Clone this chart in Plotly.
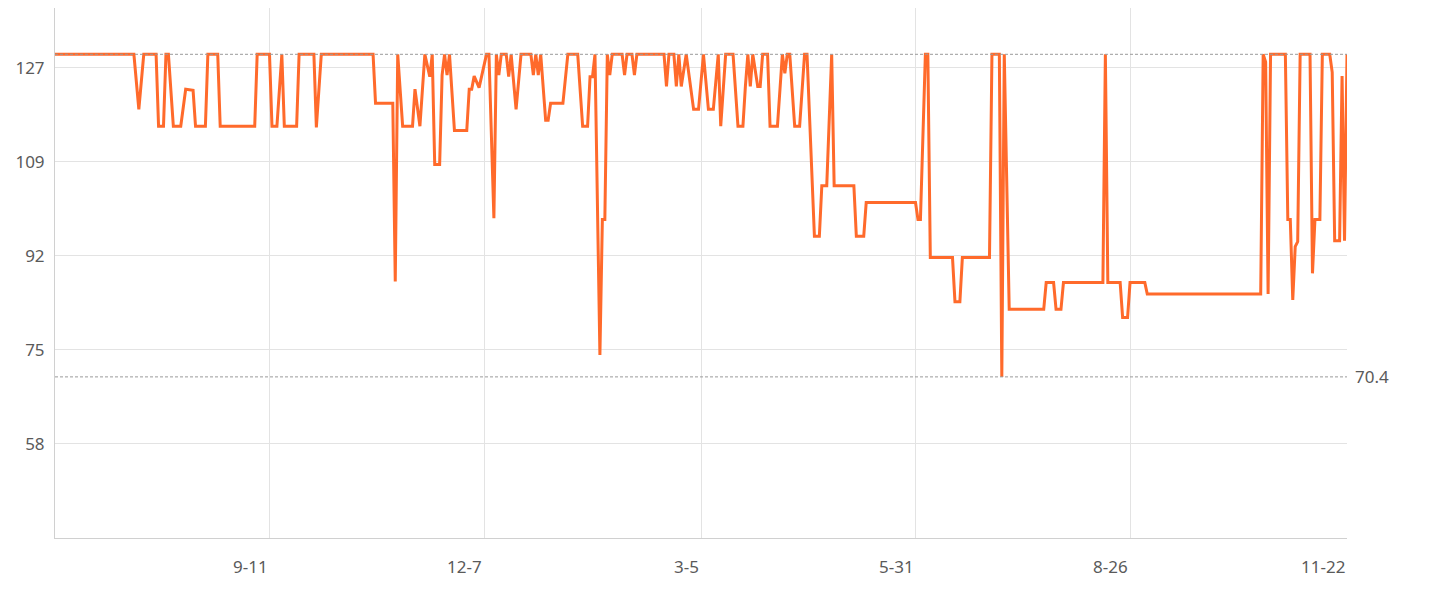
import pandas as pd
import plotly.graph_objects as go

# ---- data ----
start_date = "2022-06-16"
end_date = "2023-11-22"

day_offsets = [
    0, 32, 34, 36, 41, 42, 44, 45, 46, 48, 51, 53, 56, 57, 61, 62, 66, 67, 81, 82,
    87, 88, 90, 92, 93, 98, 99, 105, 106, 108, 129, 130, 137, 138, 139, 141, 145, 146, 148, 150,
    152, 153, 154, 156, 157, 158, 159, 160, 162, 167, 168, 169, 170, 172, 175, 176, 178, 179, 180, 181,
    183, 184, 185, 187, 189, 193, 194, 195, 196, 197, 199, 200, 201, 206, 208, 212, 214, 216, 217, 218,
    219, 221, 222, 223, 224, 225, 226, 230, 231, 232, 234, 235, 236, 247, 248, 249, 251, 252, 253, 254,
    256, 259, 261, 263, 265, 267, 269, 270, 272, 275, 277, 279, 280, 281, 282, 283, 285, 286, 287, 289,
    290, 293, 295, 296, 297, 298, 300, 302, 304, 305, 308, 310, 311, 313, 315, 316, 324, 325, 328, 329,
    349, 350, 351, 353, 354, 355, 364, 365, 367, 368, 379, 380, 383, 384, 385, 387, 401, 402, 405, 406,
    408, 409, 425, 426, 427, 432, 433, 435, 436, 442, 443, 489, 490, 491, 492, 493, 499, 500, 501, 502,
    503, 504, 505, 509, 510, 511, 513, 514, 517, 518, 519, 521, 522, 523, 524,
]

prices = [
    129.6, 129.6, 119.5, 129.6, 129.6, 116.4, 116.4, 129.6, 129.6, 116.4, 116.4, 123.2, 123.0, 116.4, 116.4, 129.6, 129.6, 116.4, 116.4, 129.6,
    129.6, 116.4, 116.4, 129.6, 116.4, 116.4, 129.6, 129.6, 116.2, 129.6, 129.6, 120.6, 120.6, 87.9, 129.6, 116.4, 116.4, 123.2, 116.4, 129.6,
    125.5, 129.6, 109.4, 109.4, 125.8, 129.6, 125.8, 129.6, 115.6, 115.6, 123.2, 123.2, 125.6, 123.5, 129.6, 129.6, 99.5, 129.6, 125.8, 129.6,
    129.6, 125.5, 129.6, 119.5, 129.6, 129.6, 125.8, 129.6, 125.8, 129.6, 117.5, 117.5, 120.6, 120.6, 129.6, 129.6, 116.4, 116.4, 125.5, 125.5,
    129.6, 74.4, 99.3, 99.3, 129.6, 125.8, 129.6, 129.6, 125.8, 129.6, 129.6, 125.8, 129.6, 129.6, 123.7, 129.6, 129.6, 123.7, 129.6, 123.7,
    129.6, 119.5, 119.5, 129.6, 119.5, 119.5, 129.6, 116.4, 129.6, 129.6, 116.4, 116.4, 123.7, 129.6, 123.7, 129.6, 123.7, 123.7, 129.6, 129.6,
    116.4, 116.4, 129.6, 126.1, 129.6, 129.6, 116.4, 116.4, 129.6, 129.6, 96.2, 96.2, 105.5, 105.5, 129.6, 105.5, 105.5, 96.2, 96.2, 102.4,
    102.4, 99.3, 99.3, 129.6, 129.6, 92.3, 92.3, 84.2, 84.2, 92.3, 92.3, 129.6, 129.6, 70.4, 129.6, 82.8, 82.8, 87.7, 87.7, 82.8,
    82.8, 87.7, 87.7, 129.6, 87.7, 87.7, 81.3, 81.3, 87.7, 87.7, 85.6, 85.6, 129.6, 128.2, 85.6, 129.6, 129.6, 99.3, 99.3, 84.5,
    94.3, 95.2, 129.6, 129.6, 89.4, 99.3, 99.3, 129.6, 129.6, 126.3, 95.4, 95.4, 125.6, 95.4, 129.6,
]

tick_dates = ["2022-09-11", "2022-12-07", "2023-03-05", "2023-05-31", "2023-08-26", "2023-11-22"]
tick_labels = ["9-11", "12-7", "3-5", "5-31", "8-26", "11-22"]

y_tick_vals = [58.14, 75.39, 92.64, 109.89, 127.14]
y_tick_labels = ["58", "75", "92", "109", "127"]

max_price = 129.6
min_price = 70.4

# ---- build ----
dates = pd.to_datetime(start_date) + pd.to_timedelta(day_offsets, unit="D")

FONT = "Microsoft YaHei, Noto Sans, sans-serif"
TXT = "#5a5a5a"
LINE = "#ff6a2b"

fig = go.Figure()
fig.add_trace(go.Scatter(
    x=dates, y=prices, mode="lines",
    line=dict(color=LINE, width=3),
    hoverinfo="x+y", showlegend=False,
))

for val in (max_price, min_price):
    fig.add_shape(type="line", xref="paper", x0=0, x1=1, yref="y", y0=val, y1=val,
                  line=dict(color="#9a9a9a", width=1, dash="3px,2px"), layer="above")

fig.add_annotation(xref="paper", x=1, xanchor="left", xshift=6, yref="y", y=min_price,
                   text=f"{min_price}", showarrow=False,
                   font=dict(family=FONT, size=17, color=TXT))

for d, lab in zip(tick_dates, tick_labels):
    fig.add_annotation(xref="x", x=d, xanchor="right", yref="paper", y=0, yanchor="middle",
                       yshift=-28, text=lab, showarrow=False,
                       font=dict(family=FONT, size=17, color=TXT))

# page body has an 8px margin; the figure is sized/offset to compensate
fig.update_layout(
    width=1421, height=584,
    margin=dict(l=47, r=82, t=0, b=54),
    paper_bgcolor="white", plot_bgcolor="white",
    font=dict(family=FONT, size=17, color=TXT),
    xaxis=dict(
        type="date", range=[start_date, end_date],
        tickvals=tick_dates, showticklabels=False,
        showgrid=True, gridcolor="#e3e3e3", gridwidth=1,
        showline=True, linecolor="#d0d0d0", linewidth=1,
        zeroline=False, ticks="",
    ),
    yaxis=dict(
        range=[40.83, 138.1],
        tickvals=y_tick_vals, ticktext=y_tick_labels,
        showgrid=True, gridcolor="#e3e3e3", gridwidth=1,
        showline=True, linecolor="#d0d0d0", linewidth=1,
        zeroline=False, ticks="", ticklabelstandoff=6,
        tickfont=dict(family=FONT, size=17, color=TXT),
    ),
)

fig.write_html("out.html")
